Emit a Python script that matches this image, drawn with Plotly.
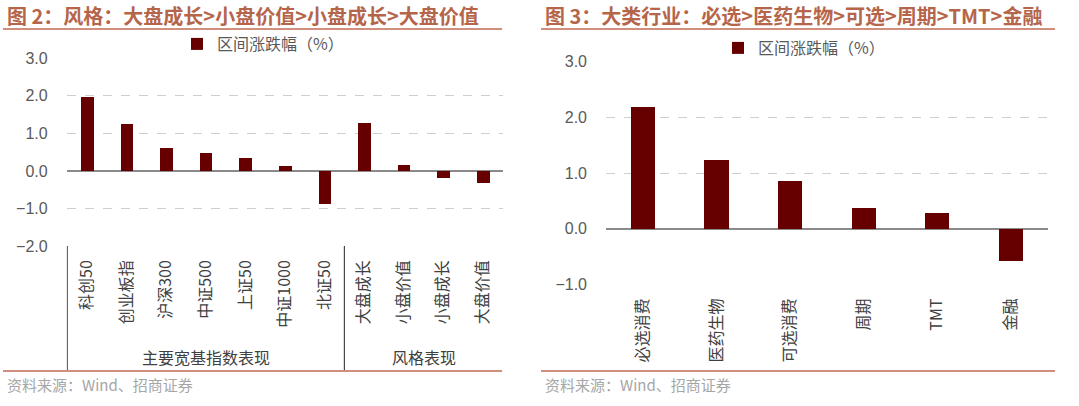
import plotly.graph_objects as go

# data
style_names = ["科创50", "创业板指", "沪深300", "中证500", "上证50", "中证1000", "北证50",
               "大盘成长", "小盘价值", "小盘成长", "大盘价值"]
style_values = [1.95, 1.23, 0.59, 0.48, 0.33, 0.12, -0.88, 1.28, 0.15, -0.19, -0.32]
style_groups = ["主要宽基指数表现", "风格表现"]
style_group_sizes = [7, 4]

sector_names = ["必选消费", "医药生物", "可选消费", "周期", "TMT", "金融"]
sector_values = [2.20, 1.24, 0.87, 0.37, 0.28, -0.57]

series_name = "区间涨跌幅（%）"
title_left = "图 2：风格：大盘成长>小盘价值>小盘成长>大盘价值"
title_right = "图 3：大类行业：必选>医药生物>可选>周期>TMT>金融"
source_text = "资料来源：Wind、招商证券"

W, H = 1079, 406
BAR = "#660000"
TITLE_COLOR = "#b5654a"
RULE_COLOR = "#cf8f7c"
TICK_GREY = "#595959"
CJK = "Noto Sans CJK SC"


def px(x):
    return x / W


def py(y):
    return 1 - y / H


fig = go.Figure()

fig.add_trace(go.Bar(
    x=style_names, y=style_values, name=series_name, showlegend=True,
    marker=dict(color=BAR, line=dict(width=0)), legendgroup="a",
    width=0.32, xaxis="x", yaxis="y", legend="legend",
))
fig.add_trace(go.Bar(
    x=sector_names, y=sector_values, name=series_name, showlegend=True,
    marker=dict(color=BAR, line=dict(width=0)), legendgroup="b",
    width=0.33, xaxis="x2", yaxis="y2", legend="legend2",
))

yaxis_common = dict(
    dtick=1, tickformat=".1f", showgrid=True, gridcolor="#cfcfcf", griddash="dash",
    gridwidth=1, zeroline=True, zerolinecolor="#8a8a8a", zerolinewidth=1.5,
    showline=False, ticks="", ticklabelstandoff=18, automargin=False,
    tickfont=dict(family="Liberation Sans, Arial", size=16, color=TICK_GREY),
)
xaxis_common = dict(
    type="category", showgrid=False, zeroline=False, showline=False, ticks="",
    tickangle=-90, ticklabelstandoff=10, automargin=False,
    tickfont=dict(family=CJK, size=16, color="#404040"),
)

legend_common = dict(xanchor="center", yanchor="middle", orientation="h",
                     font=dict(family=CJK, size=16, color=TICK_GREY),
                     bgcolor="rgba(0,0,0,0)", itemwidth=30)

fig.update_layout(
    width=W, height=H,
    margin=dict(l=0, r=0, t=0, b=0),
    paper_bgcolor="white", plot_bgcolor="white",
    bargap=0,
    xaxis=dict(domain=[px(66.7), px(502.7)], anchor="y", **xaxis_common),
    yaxis=dict(domain=[py(246), py(58.3)], range=[-2, 3], anchor="x", **yaxis_common),
    xaxis2=dict(domain=[px(606), px(1047.7)], anchor="y2", **xaxis_common),
    yaxis2=dict(domain=[py(284.3), py(61.7)], range=[-1, 3], anchor="x2", **yaxis_common),
    legend=dict(x=px(263), y=py(44), **legend_common),
    legend2=dict(x=px(804), y=py(48), **legend_common),
)

# titles, rules and source notes
for x0, x1, title in [(3, 502, title_left), (541, 1055, title_right)]:
    fig.add_annotation(text="<b>" + title + "</b>", x=px(x0 + 2), y=py(15), xref="paper", yref="paper",
                       xanchor="left", yanchor="middle", showarrow=False,
                       font=dict(family=CJK, size=20, color=TITLE_COLOR))
    fig.add_annotation(text=source_text, x=px(x0 + 2), y=py(384), xref="paper", yref="paper",
                       xanchor="left", yanchor="middle", showarrow=False,
                       font=dict(family=CJK, size=15, color="#a6a6a6"))
    for yy in (29, 371):
        fig.add_shape(type="line", xref="paper", yref="paper", x0=px(x0), x1=px(x1),
                      y0=py(yy), y1=py(yy), line=dict(color=RULE_COLOR, width=2))

# group dividers and group labels under the left chart
start = 0
for name, size in zip(style_groups, style_group_sizes):
    fig.add_shape(type="line", xref="x", yref="paper", x0=start - 0.5, x1=start - 0.5,
                  y0=py(246), y1=py(370), line=dict(color="#222222", width=1))
    fig.add_annotation(text=name, x=start + (size - 1) / 2, y=py(357), xref="x", yref="paper",
                       xanchor="center", yanchor="middle", showarrow=False,
                       font=dict(family=CJK, size=16, color="#404040"))
    start += size

# drop the default page margin so the figure sits at the window corner
fig.write_html("out.html", config={"displayModeBar": False},
               post_script="document.body.style.margin = '0';")
